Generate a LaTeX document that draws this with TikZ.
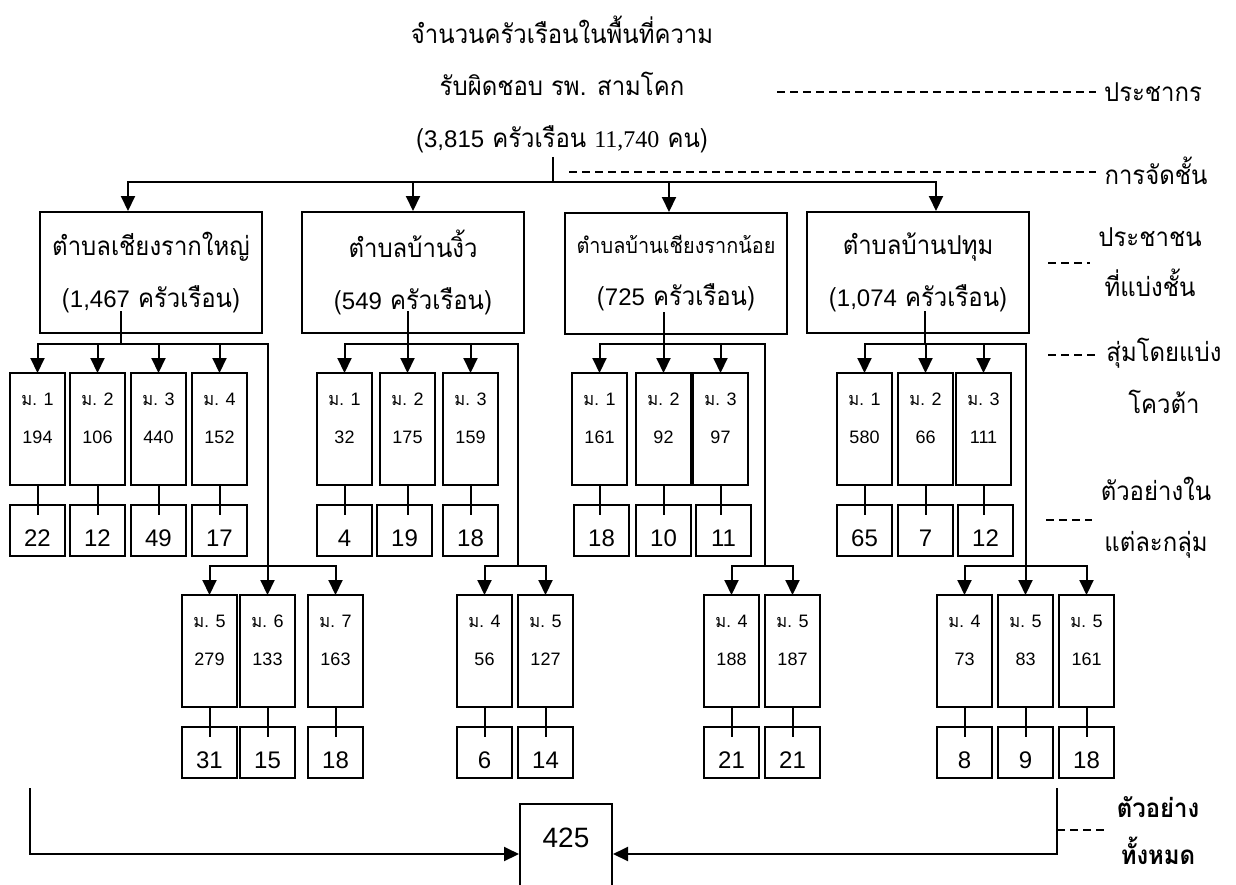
\documentclass[tikz,border=0pt]{standalone}
\usepackage{fontspec}
\setmainfont{Liberation Sans}
\newfontfamily\thaifont[Script=Thai, FakeStretch=0.92]{Loma}
\newfontfamily\arialfont{Liberation Sans}
\newfontfamily\timesfont{Liberation Serif}
\usetikzlibrary{arrows.meta,calc}
\newcommand{\vill}[2]{\parbox[c][50pt][t]{19pt}{\centering\vspace*{7pt}{\thaifont ม.} #1\\[8pt]#2}\hspace{5pt}}
\tikzset{
  title/.style={align=center, inner sep=2pt, font=\thaifont\fontsize{13}{15.5}\selectfont},
  tambon/.style={
    draw, line width=1pt, align=center, inner sep=2pt,
    minimum width=111pt, minimum height=60.5pt,
    font=\thaifont\fontsize{13}{15.5}\selectfont
  },
  moo/.style={
    draw, line width=1pt, anchor=north west, outer sep=0pt, inner sep=1pt,
    minimum width=27.5pt, minimum height=56pt,
    font=\arialfont\fontsize{9}{11}\selectfont
  },
  samp/.style={
    draw, line width=1pt, anchor=north west, outer sep=0pt, inner sep=0pt,
    minimum width=27.5pt, minimum height=25.5pt, text height=15.6pt, text depth=0pt,
    font=\arialfont\fontsize{12}{14}\selectfont
  },
  total/.style={
    draw, line width=1pt, inner sep=0pt, minimum width=46pt, minimum height=50pt,
    text height=10pt, text depth=17pt, font=\arialfont\fontsize{14}{16}\selectfont
  },
  side/.style={align=center, inner xsep=4pt, inner ysep=1pt, font=\thaifont\fontsize{13}{15.5}\selectfont},
  arr/.style={-{Triangle[length=7.5pt,width=7pt]}, line width=1pt},
  ln/.style={line width=1pt},
  dashln/.style={line width=0.6pt, dash pattern=on 4pt off 2.5pt}
}
\begin{document}
\begin{tikzpicture}[x=0.5pt,y=-0.5pt]
  \useasboundingbox (0,0) rectangle (1236,884);

  % population
  \node[title] (title) at (562,84)
    {จำนวนครัวเรือนในพื้นที่ความ\\[10.5pt]รับผิดชอบ รพ. สามโคก\\[10.5pt]({\arialfont\fontsize{12}{14}\selectfont 3,815} ครัวเรือน {\timesfont\fontsize{12}{14}\selectfont 11,740} คน)};
  \coordinate (Tb) at (553,182);
  \draw[ln] (title.south -| Tb) -- (Tb);

  % strata
  \node[tambon] (A) at (151,272.5) {ตำบลเชียงรากใหญ่\\[10.5pt]({\arialfont\fontsize{12}{14}\selectfont 1,467} ครัวเรือน)};
  \node[tambon] (B) at (413,272.5) {ตำบลบ้านงิ้ว\\[10.5pt]({\arialfont\fontsize{12}{14}\selectfont 549} ครัวเรือน)};
  \node[tambon] (C) at (676,273.5) {{\fontsize{10.8}{13}\selectfont ตำบลบ้านเชียงรากน้อย}\\[10.5pt]({\arialfont\fontsize{12}{14}\selectfont 725} ครัวเรือน)};
  \node[tambon] (D) at (918,272.5) {ตำบลบ้านปทุม\\[10.5pt]({\arialfont\fontsize{12}{14}\selectfont 1,074} ครัวเรือน)};
  \draw[arr] (Tb) -| ([xshift=-11.5pt]A.north);
  \draw[arr] (Tb) -| (B);
  \draw[arr] (Tb) -| ([xshift=-3.5pt]C.north);
  \draw[arr] (Tb) -| ([xshift=9pt]D.north);

  % buses and trunks
  \coordinate (Ab) at (121,344);  \coordinate (At) at (268,566);
  \coordinate (Bb) at (408,344);  \coordinate (Bt) at (518,566);
  \coordinate (Cb) at (664,344);  \coordinate (Ct) at (765,566);
  \coordinate (Db) at (925,344);  \coordinate (Dt) at (1026,566);
  \draw[ln] ([yshift=11.5pt]A.south -| Ab) -- (Ab) -| (At);
  \draw[ln] ([yshift=11.5pt]B.south -| Bb) -- (Bb) -| (Bt);
  \draw[ln] ([yshift=11.5pt]C.south -| Cb) -- (Cb) -| (Ct);
  \draw[ln] ([yshift=11.5pt]D.south -| Db) -- (Db) -| (Dt);

  % villages, first row
  \foreach \i/\x/\xs/\v/\s in {1/10/10/194/22, 2/70/70/106/12, 3/131/131/440/49, 4/192/192/152/17}{
    \node[moo] (a\i) at (\x,373) {\vill{\i}{\v}};
    \node[samp] (as\i) at (\xs,505) {\s};
    \draw[arr] (Ab) -| (a\i);
    \draw[ln] (a\i.south) -- ([yshift=-5pt]a\i.south |- as\i.north);
  }
  \foreach \i/\x/\xs/\v/\s in {1/317/317/32/4, 2/380/377/175/19, 3/443/443/159/18}{
    \node[moo] (b\i) at (\x,373) {\vill{\i}{\v}};
    \node[samp] (bs\i) at (\xs,505) {\s};
    \draw[arr] (Bb) -| (b\i);
    \draw[ln] (b\i.south) -- ([yshift=-5pt]b\i.south |- bs\i.north);
  }
  \foreach \i/\x/\xs/\v/\s in {1/572/574/161/18, 2/636/636/92/10, 3/693/696/97/11}{
    \node[moo] (c\i) at (\x,373) {\vill{\i}{\v}};
    \node[samp] (cs\i) at (\xs,505) {\s};
    \draw[arr] (Cb) -| (c\i);
    \draw[ln] (c\i.south) -- ([yshift=-5pt]c\i.south |- cs\i.north);
  }
  \foreach \i/\x/\xs/\v/\s in {1/837/837/580/65, 2/898/898/66/7, 3/956/958/111/12}{
    \node[moo] (d\i) at (\x,373) {\vill{\i}{\v}};
    \node[samp] (ds\i) at (\xs,505) {\s};
    \draw[arr] (Db) -| (d\i);
    \draw[ln] (d\i.south) -- ([yshift=-5pt]d\i.south |- ds\i.north);
  }

  % villages, second row
  \foreach \i/\m/\x/\v/\s/\tr/\g in {5/5/182/279/31/At/a, 6/6/240/133/15/At/a, 7/7/308/163/18/At/a,
      4/4/457/56/6/Bt/b, 5/5/518/127/14/Bt/b, 4/4/704/188/21/Ct/c, 5/5/765/187/21/Ct/c,
      4/4/937/73/8/Dt/d, 5/5/998/83/9/Dt/d, 6/5/1059/161/18/Dt/d}{
    \node[moo] (\g\i) at (\x,595) {\vill{\m}{\v}};
    \node[samp] (\g s\i) at (\x,727) {\s};
    \draw[arr] (\tr) -| (\g\i);
    \draw[ln] (\g\i.south) -- ([yshift=-5pt]\g\i.south |- \g s\i.north);
  }

  % whole sample
  \node[total] (tot) at (566,854) {425};
  \coordinate (Lq) at (30,788);
  \coordinate (Rq) at (1057,788);
  \draw[arr] (Lq) |- (tot);
  \draw[arr] (Rq) |- (tot);

  % side notes
  \node[side] (pop) at (1153,92) {ประชากร};
  \node[side] (strat) at (1156,171) {การจัดชั้น};
  \node[side] (peo) at (1150,262) {ประชาชน\\[9.5pt]ที่แบ่งชั้น};
  \node[side] (quota) at (1164,376) {สุ่มโดยแบ่ง\\[10.5pt]โควต้า};
  \node[side] (grp) at (1156,518) {ตัวอย่างใน\\[10pt]แต่ละกลุ่ม};
  \node[side, font=\thaifont\bfseries\fontsize{13}{15.5}\selectfont] (all) at (1158,831) {ตัวอย่าง\\[8pt]ทั้งหมด};
  \coordinate (popd) at (777,92);
  \coordinate (stratd) at (569,172);
  \coordinate (peod) at (1048,263);
  \coordinate (quotad) at (1048,355);
  \coordinate (grpd) at (1046,520);
  \coordinate (alld) at (1057,830);
  \draw[dashln] (popd) -- (popd -| pop.west);
  \draw[dashln] (stratd) -- (stratd -| strat.west);
  \draw[dashln] (peod) -- (peod -| peo.west);
  \draw[dashln] (quotad) -- (quotad -| quota.west);
  \draw[dashln] (grpd) -- (grpd -| grp.west);
  \draw[dashln] (alld) -- (alld -| all.west);
\end{tikzpicture}
\end{document}
